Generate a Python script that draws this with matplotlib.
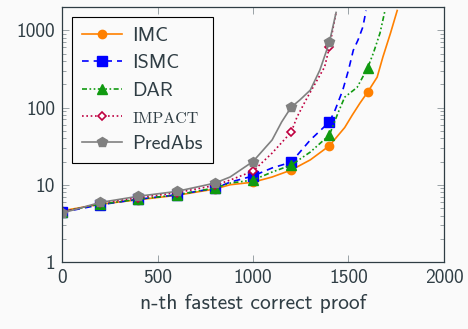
import matplotlib
matplotlib.use("Agg")
import matplotlib.pyplot as plt
import numpy as np

# curves (x = rank of proof, y = time)
imc_x = [0, 200, 400, 600, 800, 880, 1000, 1100, 1200, 1300, 1400, 1480, 1520, 1560, 1600, 1650, 1680, 1720, 1755]
imc_y = [4.6, 5.6, 6.4, 7.3, 8.8, 10.0, 10.8, 12.6, 15.5, 21, 32, 55, 80, 114, 158, 247, 450, 920, 1800]

ismc_x = [0, 200, 400, 600, 800, 880, 1000, 1100, 1200, 1300, 1400, 1430, 1470, 1500, 1525, 1550, 1575, 1592]
ismc_y = [4.4, 5.5, 6.5, 7.4, 9.0, 10.8, 13.0, 16.5, 19.6, 38, 65, 93, 168, 305, 550, 750, 1100, 1800]

dar_x = [0, 200, 400, 600, 800, 880, 1000, 1100, 1200, 1300, 1400, 1445, 1480, 1545, 1600, 1630, 1665, 1691]
dar_y = [4.5, 5.6, 6.5, 7.4, 9.1, 10.5, 11.5, 14.6, 18.0, 26.5, 44, 85, 136, 182, 325, 505, 920, 1800]

impact_x = [0, 200, 400, 600, 800, 880, 1000, 1100, 1200, 1230, 1285, 1375, 1400, 1435]
impact_y = [4.4, 5.8, 6.8, 7.9, 9.8, 11.5, 15.0, 25.7, 48, 75, 136, 335, 605, 1700]

predabs_x = [0, 200, 400, 600, 800, 880, 1000, 1100, 1150, 1200, 1245, 1300, 1350, 1400, 1435]
predabs_y = [4.3, 5.9, 7.1, 8.2, 10.5, 12.6, 20, 38, 65, 101, 125, 168, 305, 700, 1700]

TEXT = "#2f3d44"
BG = "#fafafa"

plt.rcParams["font.family"] = ["cmss10", "DejaVu Sans"]
plt.rcParams["axes.unicode_minus"] = False

fig = plt.figure(figsize=(4.68, 3.29), dpi=100, facecolor=BG)
ax = fig.add_axes([0.1325, 0.2036, 0.8162, 0.7751])
ax.set_facecolor(BG)


def marks(xs):
    return [i for i, v in enumerate(xs) if v % 200 == 0]


lw = 1.2
ax.plot(imc_x, imc_y, color="#ff8000", lw=lw, marker="o", ms=6,
        markevery=marks(imc_x), label="IMC")
ax.plot(ismc_x, ismc_y, color="#0000ff", lw=lw, ls=(0, (4, 3)), marker="s", ms=6.5,
        markevery=marks(ismc_x), label="ISMC")
ax.plot(dar_x, dar_y, color="#109a10", lw=lw, ls=(0, (3, 1.5, 1, 1.5, 1, 1.5)),
        marker="^", ms=6.5, markevery=marks(dar_x), label="DAR")
ax.plot(impact_x, impact_y, color="#bf0040", lw=lw, ls=(0, (1, 1.6)), marker="D",
        ms=4.5, mfc="white", mec="#bf0040", mew=1.2,
        markevery=marks(impact_x), label="IMPACT")
ax.plot(predabs_x, predabs_y, color="#808080", lw=lw, marker="p", ms=7,
        markevery=marks(predabs_x), label="PredAbs")

ax.set_yscale("log")
ax.set_xlim(0, 2000)
ax.set_ylim(1, 2000)
ax.set_xticks([0, 500, 1000, 1500, 2000])
ax.set_yticks([1, 10, 100, 1000])
ax.set_yticklabels(["1", "10", "100", "1000"])

for s in ax.spines.values():
    s.set_color(TEXT)
    s.set_linewidth(0.9)
ax.tick_params(which="major", direction="in", top=True, right=True,
               length=5, width=0.6, color="#8a9499", labelsize=14,
               labelcolor=TEXT, pad=5)
ax.tick_params(which="minor", direction="in", top=True, right=True,
               length=3, width=0.6, color="#8a9499")
ax.set_xlabel("n-th fastest correct proof", fontsize=15.5, color=TEXT, labelpad=5)

leg = ax.legend(loc="upper left", fontsize=14.5, frameon=True, fancybox=False,
                edgecolor="black", facecolor=BG, framealpha=1,
                handlelength=2.0, borderaxespad=0.5, labelspacing=0.45,
                handletextpad=0.5, borderpad=0.5)
leg.get_frame().set_linewidth(0.8)
for t in leg.get_texts():
    t.set_color(TEXT)
leg.get_texts()[3].set_fontfamily(["cmr10", "DejaVu Serif"])
leg.get_texts()[3].set_fontsize(11.5)

fig.savefig("out.png", dpi=100, facecolor=BG)
